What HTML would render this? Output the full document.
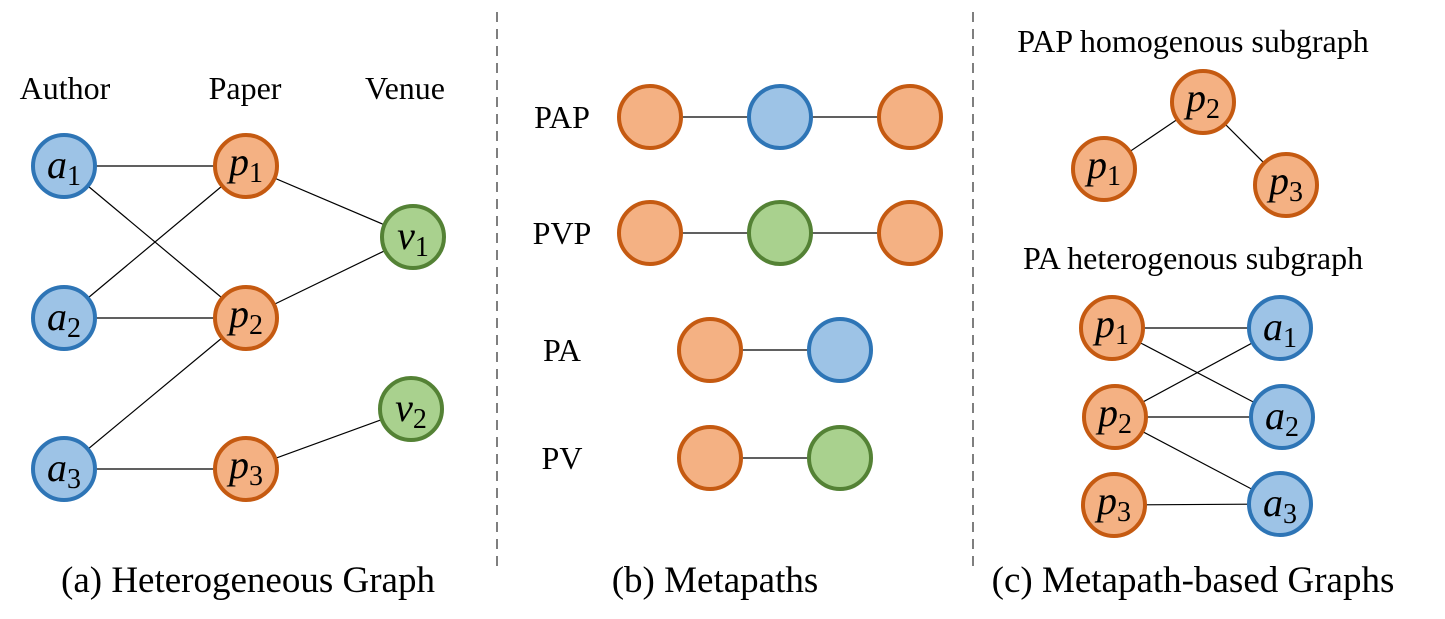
<!DOCTYPE html>
<html><head><meta charset="utf-8"><style>
html,body{margin:0;padding:0;background:#fff;}
svg{display:block;}
text{font-family:"Liberation Serif",serif;fill:#000;}
.lab{font-size:32px;}
.cap{font-size:37px;}
.nl{font-size:40px;font-style:italic;}
.sub{font-size:28px;font-style:normal;}
.e{stroke:#000;stroke-width:1.2;}
.b{fill:#9dc3e6;stroke:#2e75b6;stroke-width:4;}
.o{fill:#f4b183;stroke:#c55a11;stroke-width:4;}
.g{fill:#a9d18e;stroke:#548235;stroke-width:4;}
</style></head><body>
<svg width="1445" height="619" viewBox="0 0 1445 619" xmlns="http://www.w3.org/2000/svg">
<line x1="497" y1="12" x2="497" y2="572" stroke="#7f7f7f" stroke-width="2" stroke-dasharray="10,7"/>
<line x1="973" y1="12" x2="973" y2="572" stroke="#7f7f7f" stroke-width="2" stroke-dasharray="10,7"/>

<!-- Panel a -->
<text class="lab" x="65" y="99" text-anchor="middle">Author</text>
<text class="lab" x="245" y="99" text-anchor="middle">Paper</text>
<text class="lab" x="405" y="99" text-anchor="middle">Venue</text>
<g class="e">
<line x1="64" y1="166" x2="246" y2="166"/>
<line x1="64" y1="166" x2="246" y2="318"/>
<line x1="64" y1="318" x2="246" y2="166"/>
<line x1="64" y1="318" x2="246" y2="318"/>
<line x1="64" y1="469" x2="246" y2="318"/>
<line x1="64" y1="469" x2="246" y2="469"/>
<line x1="246" y1="166" x2="413" y2="237"/>
<line x1="246" y1="318" x2="413" y2="237"/>
<line x1="246" y1="469" x2="411" y2="409"/>
</g>
<circle class="b" cx="64" cy="166" r="31"/><circle class="b" cx="64" cy="318" r="31"/><circle class="b" cx="64" cy="469" r="31"/>
<circle class="o" cx="246" cy="166" r="31"/><circle class="o" cx="246" cy="318" r="31"/><circle class="o" cx="246" cy="469" r="31"/>
<circle class="g" cx="413" cy="237" r="31"/><circle class="g" cx="411" cy="409" r="31"/>
<text class="nl" x="64" y="178" text-anchor="middle">a<tspan class="sub" dy="7">1</tspan></text>
<text class="nl" x="64" y="330" text-anchor="middle">a<tspan class="sub" dy="7">2</tspan></text>
<text class="nl" x="64" y="481" text-anchor="middle">a<tspan class="sub" dy="7">3</tspan></text>
<text class="nl" x="246" y="175" text-anchor="middle">p<tspan class="sub" dy="7">1</tspan></text>
<text class="nl" x="246" y="327" text-anchor="middle">p<tspan class="sub" dy="7">2</tspan></text>
<text class="nl" x="246" y="478" text-anchor="middle">p<tspan class="sub" dy="7">3</tspan></text>
<text class="nl" x="413" y="249" text-anchor="middle">v<tspan class="sub" dy="7">1</tspan></text>
<text class="nl" x="411" y="421" text-anchor="middle">v<tspan class="sub" dy="7">2</tspan></text>
<text class="cap" x="248" y="592" text-anchor="middle">(a) Heterogeneous Graph</text>

<!-- Panel b -->
<text class="lab" x="562" y="128" text-anchor="middle">PAP</text>
<text class="lab" x="562" y="244" text-anchor="middle">PVP</text>
<text class="lab" x="562" y="361" text-anchor="middle">PA</text>
<text class="lab" x="562" y="469" text-anchor="middle">PV</text>
<g class="e">
<line x1="650" y1="117" x2="910" y2="117"/>
<line x1="650" y1="233" x2="910" y2="233"/>
<line x1="710" y1="350" x2="840" y2="350"/>
<line x1="710" y1="458" x2="840" y2="458"/>
</g>
<circle class="o" cx="650" cy="117" r="31"/><circle class="b" cx="780" cy="117" r="31"/><circle class="o" cx="910" cy="117" r="31"/>
<circle class="o" cx="650" cy="233" r="31"/><circle class="g" cx="780" cy="233" r="31"/><circle class="o" cx="910" cy="233" r="31"/>
<circle class="o" cx="710" cy="350" r="31"/><circle class="b" cx="840" cy="350" r="31"/>
<circle class="o" cx="710" cy="458" r="31"/><circle class="g" cx="840" cy="458" r="31"/>
<text class="cap" x="715" y="592" text-anchor="middle">(b) Metapaths</text>

<!-- Panel c -->
<text class="lab" x="1193" y="52" text-anchor="middle">PAP homogenous subgraph</text>
<g class="e">
<line x1="1203" y1="102" x2="1104" y2="169"/>
<line x1="1203" y1="102" x2="1286" y2="185"/>
</g>
<circle class="o" cx="1203" cy="102" r="31"/><circle class="o" cx="1104" cy="169" r="31"/><circle class="o" cx="1286" cy="185" r="31"/>
<text class="nl" x="1203" y="111" text-anchor="middle">p<tspan class="sub" dy="7">2</tspan></text>
<text class="nl" x="1104" y="178" text-anchor="middle">p<tspan class="sub" dy="7">1</tspan></text>
<text class="nl" x="1286" y="194" text-anchor="middle">p<tspan class="sub" dy="7">3</tspan></text>

<text class="lab" x="1193" y="269" text-anchor="middle">PA heterogenous subgraph</text>
<g class="e">
<line x1="1112" y1="328" x2="1280" y2="328"/>
<line x1="1112" y1="328" x2="1282" y2="417"/>
<line x1="1115" y1="417" x2="1280" y2="328"/>
<line x1="1115" y1="417" x2="1282" y2="417"/>
<line x1="1115" y1="417" x2="1280" y2="504"/>
<line x1="1114" y1="505" x2="1280" y2="504"/>
</g>
<circle class="o" cx="1112" cy="328" r="31"/><circle class="o" cx="1115" cy="417" r="31"/><circle class="o" cx="1114" cy="505" r="31"/>
<circle class="b" cx="1280" cy="328" r="31"/><circle class="b" cx="1282" cy="417" r="31"/><circle class="b" cx="1280" cy="504" r="31"/>
<text class="nl" x="1112" y="337" text-anchor="middle">p<tspan class="sub" dy="7">1</tspan></text>
<text class="nl" x="1115" y="426" text-anchor="middle">p<tspan class="sub" dy="7">2</tspan></text>
<text class="nl" x="1114" y="514" text-anchor="middle">p<tspan class="sub" dy="7">3</tspan></text>
<text class="nl" x="1280" y="340" text-anchor="middle">a<tspan class="sub" dy="7">1</tspan></text>
<text class="nl" x="1282" y="429" text-anchor="middle">a<tspan class="sub" dy="7">2</tspan></text>
<text class="nl" x="1280" y="516" text-anchor="middle">a<tspan class="sub" dy="7">3</tspan></text>
<text class="cap" x="1193" y="592" text-anchor="middle">(c) Metapath-based Graphs</text>
</svg>
</body></html>
